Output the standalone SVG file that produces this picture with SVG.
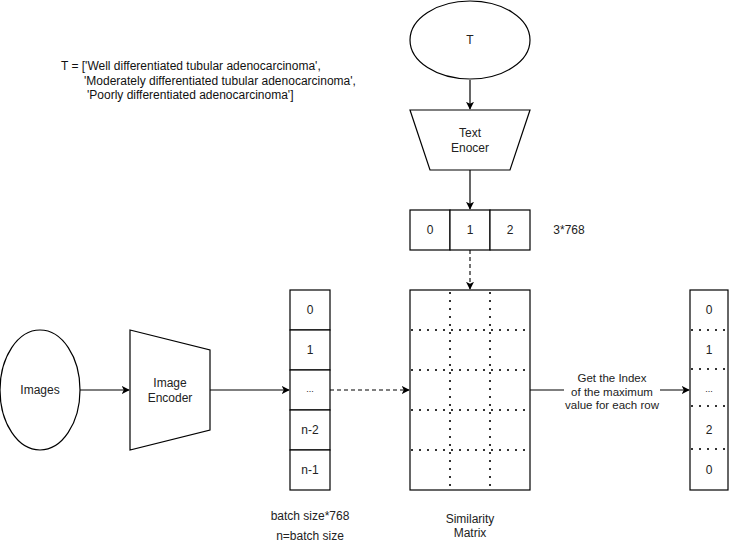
<svg xmlns="http://www.w3.org/2000/svg" width="733" height="551" viewBox="0 0 733 551">
<defs>
<marker id="ah" viewBox="0 0 10 10" refX="9" refY="5" markerWidth="8" markerHeight="8" markerUnits="userSpaceOnUse" orient="auto">
<path d="M0,0 L10,5 L0,10 L2.5,5 Z" fill="#000"/>
</marker>
</defs>
<style>
.s{fill:#fff;stroke:#000;stroke-width:1.2}
.t{font-family:"Liberation Sans",Arial,sans-serif;font-size:12px;fill:#222;text-anchor:middle}
.tl{font-family:"Liberation Sans",Arial,sans-serif;font-size:12px;fill:#111}
.sm{font-family:"Liberation Sans",Arial,sans-serif;font-size:11.5px;fill:#222;text-anchor:middle}
.c{fill:none;stroke:#000;stroke-width:1.2}
.d{fill:none;stroke:#000;stroke-width:1.1;stroke-dasharray:4 3}
.dot{fill:none;stroke:#333;stroke-width:2;stroke-dasharray:2 6}
</style>
<rect width="733" height="551" fill="#fff"/>
<g id="t-list">
<text class="tl" x="61" y="70">T = ['Well differentiated tubular adenocarcinoma',</text>
<text class="tl" x="84" y="85">'Moderately differentiated tubular adenocarcinoma',</text>
<text class="tl" x="87" y="99">'Poorly differentiated adenocarcinoma']</text>
</g>
<g id="connectors">
<path class="c" d="M470,80 L470,109" marker-end="url(#ah)"/>
<path class="c" d="M470,170 L470,209" marker-end="url(#ah)"/>
<path class="d" d="M470,250 L470,289" marker-end="url(#ah)"/>
<path class="c" d="M80,390 L129,390" marker-end="url(#ah)"/>
<path class="c" d="M210,390 L289,390" marker-end="url(#ah)"/>
<path class="d" d="M330,390 L409,390" marker-end="url(#ah)"/>
<path class="c" d="M530,390 L689,390" marker-end="url(#ah)"/>
<rect x="564" y="370" width="96" height="42" fill="#fff"/>
<text class="sm" x="612" y="382">Get  the Index</text>
<text class="sm" x="612" y="396">of the maximum</text>
<text class="sm" x="612" y="409">value for each row</text>
</g>
<g id="node-T">
<ellipse class="s" cx="470" cy="40" rx="60" ry="39"/>
<text class="t" x="470" y="44">T</text>
</g>
<g id="node-text-encoder">
<path class="s" d="M410,110 L530,110 L510,170 L430,170 Z"/>
<text class="t" x="470" y="137">Text</text>
<text class="t" x="470" y="152">Enocer</text>
</g>
<g id="node-text-emb">
<rect class="s" x="410" y="210" width="40" height="40"/>
<rect class="s" x="450" y="210" width="40" height="40"/>
<rect class="s" x="490" y="210" width="40" height="40"/>
<text class="t" x="430" y="234">0</text>
<text class="t" x="470" y="234">1</text>
<text class="t" x="510" y="234">2</text>
<text class="t" x="569" y="234">3*768</text>
</g>
<g id="node-images">
<ellipse class="s" cx="40" cy="390" rx="40" ry="60"/>
<text class="t" x="40" y="394">Images</text>
</g>
<g id="node-image-encoder">
<path class="s" d="M130,330 L210,350 L210,430 L130,450 Z"/>
<text class="t" x="170" y="387">Image</text>
<text class="t" x="170" y="402">Encoder</text>
</g>
<g id="node-image-emb">
<rect class="s" x="290" y="290" width="40" height="40"/>
<rect class="s" x="290" y="330" width="40" height="40"/>
<rect class="s" x="290" y="370" width="40" height="40"/>
<rect class="s" x="290" y="410" width="40" height="40"/>
<rect class="s" x="290" y="450" width="40" height="40"/>
<text class="t" x="310" y="314">0</text>
<text class="t" x="310" y="354">1</text>
<text class="t" x="310" y="392" style="font-size:9px">...</text>
<text class="t" x="310" y="434">n-2</text>
<text class="t" x="310" y="474">n-1</text>
<text class="t" x="310" y="520">batch size*768</text>
<text class="t" x="310" y="540">n=batch size</text>
</g>
<g id="node-similarity">
<rect class="s" x="410" y="290" width="120" height="200"/>
<path class="dot" d="M450,292 L450,490 M490,292 L490,490"/>
<path class="dot" d="M411,330 L530,330 M411,370 L530,370 M411,410 L530,410 M411,450 L530,450"/>
<text class="t" x="470" y="523">Similarity</text>
<text class="t" x="470" y="537">Matrix</text>
</g>
<g id="node-output">
<rect class="s" x="690" y="290" width="38" height="200"/>
<path class="dot" d="M691,330 L728,330 M691,369 L728,369 M691,406 L728,406 M691,449 L728,449"/>
<text class="t" x="709" y="314">0</text>
<text class="t" x="709" y="354">1</text>
<text class="t" x="709" y="392" style="font-size:9px">...</text>
<text class="t" x="709" y="434">2</text>
<text class="t" x="709" y="474">0</text>
</g>
</svg>
